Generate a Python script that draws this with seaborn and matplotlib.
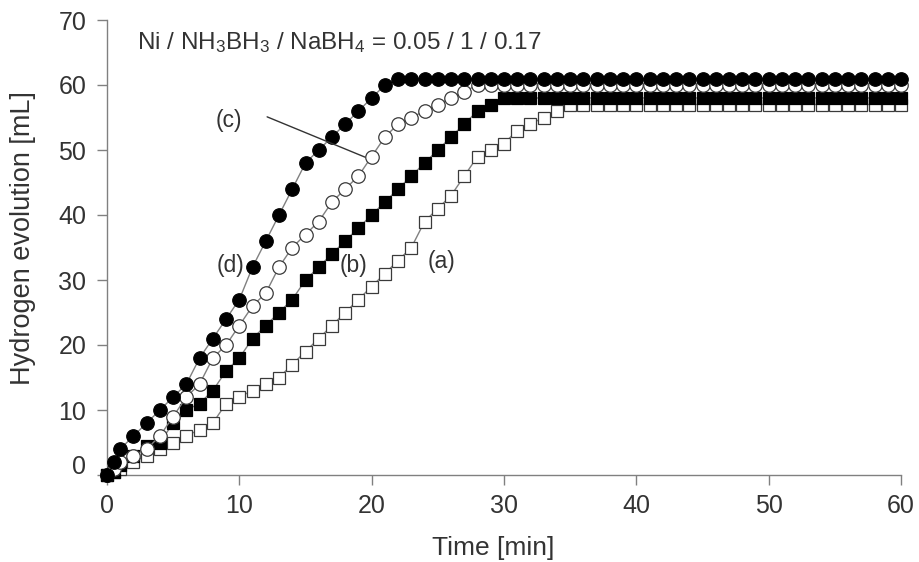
import matplotlib
matplotlib.use("Agg")
import matplotlib.pyplot as plt
import seaborn as sns
from matplotlib.transforms import ScaledTranslation

# ---- data ----
time_min = [0, 0.5, 1, 2, 3, 4, 5, 6, 7, 8, 9, 10, 11, 12, 13, 14, 15, 16, 17, 18, 19, 20,
            21, 22, 23, 24, 25, 26, 27, 28, 29, 30, 31, 32, 33, 34, 35, 36, 37, 38, 39, 40,
            41, 42, 43, 44, 45, 46, 47, 48, 49, 50, 51, 52, 53, 54, 55, 56, 57, 58, 59, 60]

series_a = [0, 0.5, 1, 2, 3, 4, 5, 6, 7, 8, 11, 12, 13, 14, 15, 17, 19, 21, 23, 25, 27, 29,
            31, 33, 35, 39, 41, 43, 46, 49, 50, 51, 53, 54, 55, 56, 57, 57, 57, 57, 57, 57,
            57, 57, 57, 57, 57, 57, 57, 57, 57, 57, 57, 57, 57, 57, 57, 57, 57, 57, 57, 57]

series_b = [0, 0.5, 1.5, 3, 4.5, 5, 8, 10, 11, 13, 16, 18, 21, 23, 25, 27, 30, 32, 34, 36, 38, 40,
            42, 44, 46, 48, 50, 52, 54, 56, 57, 58, 58, 58, 58, 58, 58, 58, 58, 58, 58, 58,
            58, 58, 58, 58, 58, 58, 58, 58, 58, 58, 58, 58, 58, 58, 58, 58, 58, 58, 58, 58]

series_c = [0, 1, 2, 3, 4, 6, 9, 12, 14, 18, 20, 23, 26, 28, 32, 35, 37, 39, 42, 44, 46, 49,
            52, 54, 55, 56, 57, 58, 59, 60, 60, 60, 60, 60, 60, 60, 60, 60, 60, 60, 60, 60,
            60, 60, 60, 60, 60, 60, 60, 60, 60, 60, 60, 60, 60, 60, 60, 60, 60, 60, 60, 60]

series_d = [0, 2, 4, 6, 8, 10, 12, 14, 18, 21, 24, 27, 32, 36, 40, 44, 48, 50, 52, 54, 56, 58,
            60, 61, 61, 61, 61, 61, 61, 61, 61, 61, 61, 61, 61, 61, 61, 61, 61, 61, 61, 61,
            61, 61, 61, 61, 61, 61, 61, 61, 61, 61, 61, 61, 61, 61, 61, 61, 61, 61, 61, 61]

series_labels = ["(a)", "(b)", "(c)", "(d)"]
x_ticks = [0, 10, 20, 30, 40, 50, 60]
y_ticks = [0, 10, 20, 30, 40, 50, 60, 70]
title_text = "Ni / NH$_3$BH$_3$ / NaBH$_4$ = 0.05 / 1 / 0.17"
x_label = "Time [min]"
y_label = "Hydrogen evolution [mL]"

# ---- style ----
sns.set_theme(style="white")
plt.rcParams['font.family'] = ['Liberation Sans', 'DejaVu Sans']
plt.rcParams['mathtext.fontset'] = 'custom'
plt.rcParams['mathtext.rm'] = 'Liberation Sans'
plt.rcParams['mathtext.it'] = 'Liberation Sans:italic'
plt.rcParams['mathtext.bf'] = 'Liberation Sans:bold'
plt.rcParams['mathtext.default'] = 'regular'

text_color = '#333333'
axis_color = '#808080'
line_color = '#808080'

fig = plt.figure(figsize=(9.19, 5.62), dpi=100)
ax = fig.add_axes([107 / 919, 1 - 475 / 562, (901 - 107) / 919, (475 - 20) / 562])

styles = [
    (series_a, 's', 'white', '#3a3a3a', 9.1),
    (series_b, 's', 'black', 'black', 9.1),
    (series_c, 'o', 'white', '#3a3a3a', 9.7),
    (series_d, 'o', 'black', 'black', 9.7),
]
for i, (vals, mk, fc, ec, ms) in enumerate(styles):
    sns.lineplot(x=time_min, y=vals, ax=ax, color=line_color, linewidth=1.0,
                 marker=mk, markersize=ms, markerfacecolor=fc, markeredgecolor=ec,
                 markeredgewidth=0.9, errorbar=None, clip_on=False, zorder=3 + i)

ax.set_xlim(0, 60)
ax.set_ylim(0, 70)
ax.set_xticks(x_ticks)
ax.set_yticks(y_ticks)
for s in ['top', 'right']:
    ax.spines[s].set_visible(False)
for s in ['left', 'bottom']:
    ax.spines[s].set_color(axis_color)
    ax.spines[s].set_linewidth(1.0)
ax.tick_params(axis='both', direction='out', length=7, width=1.0, color=axis_color,
               labelsize=18, labelcolor=text_color)
ax.tick_params(axis='x', pad=7)
ax.tick_params(axis='y', pad=8, left=True)
ax.tick_params(axis='x', bottom=True)

# y "0" label sits a little above its tick in the reference
fig.canvas.draw()
ylabels = ax.get_yticklabels()
ylabels[0].set_transform(ylabels[0].get_transform() +
                         ScaledTranslation(0, 11 / 100, fig.dpi_scale_trans))

ax.set_xlabel(x_label, fontsize=19, color=text_color)
ax.set_ylabel(y_label, fontsize=19.5, color=text_color)
ax.xaxis.set_label_coords(0.487, -0.135)
ax.yaxis.set_label_coords(-0.089, 0.521)

ax.text(2.3, 66.6, title_text, fontsize=17.5, color=text_color, ha='left', va='center')

label_pos = [(25.3, 32.8), (18.6, 32.3), (9.2, 54.6), (9.3, 32.3)]
for lab, (lx, ly) in zip(series_labels, label_pos):
    ax.text(lx, ly, lab, fontsize=16.5, color=text_color, ha='center', va='center', zorder=10)

ax.annotate("", xy=(19.5, 48.9), xytext=(12.1, 55.1),
            arrowprops=dict(arrowstyle='-', color='#333333', lw=1.0,
                            shrinkA=0, shrinkB=0), zorder=8)

fig.savefig("out.png", dpi=100)
